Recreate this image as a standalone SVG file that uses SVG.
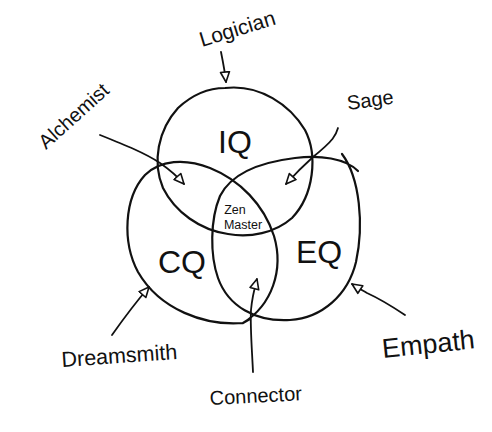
<svg xmlns="http://www.w3.org/2000/svg" width="492" height="432" viewBox="0 0 492 432">
<defs>
<style>
.ring{fill:none;stroke:#111;stroke-width:2.2;stroke-linecap:round;stroke-linejoin:round}
.conn{fill:none;stroke:#111;stroke-width:1.8;stroke-linecap:round}
.lbl{font-family:"Liberation Sans","DejaVu Sans",sans-serif;fill:#111}
.big{font-size:32px}
.small{font-size:20px}
.zen{font-size:12.5px}
</style>
<marker id="ah" viewBox="0 0 12 12" refX="11" refY="6" markerWidth="12" markerHeight="12" markerUnits="userSpaceOnUse" orient="auto">
<path d="M1,1.5 L11,6 L1,10.5 Z" fill="#fff" stroke="#111" stroke-width="1.6" stroke-linejoin="round"/>
</marker>
</defs>
<rect width="492" height="432" fill="#fff"/>
<g id="connectors">
<path class="conn" d="M221,52 C223,62 225,72 226,82" marker-end="url(#ah)"/>
<path class="conn" d="M100,135 C125,145 145,153 160,163 C170,170 177,176 184,184" marker-end="url(#ah)"/>
<path class="conn" d="M338,128 C336,135 334,140 313,157 C303,166 295,174 286,184" marker-end="url(#ah)"/>
<path class="conn" d="M112,335 C124,318 136,302 149,287" marker-end="url(#ah)"/>
<path class="conn" d="M253,372 C252,350 250,325 251,310 C252,298 254,290 257,279" marker-end="url(#ah)"/>
<path class="conn" d="M405,315 C390,305 378,298 367,293 C362,290 358,288 352,284" marker-end="url(#ah)"/>
</g>
<g id="iq">
<path class="ring" d="M225,88 C260,84 290,105 305,130 C318,155 314,195 292,218 C275,233 250,238 228,234 C200,230 175,212 163,188 C152,162 158,130 178,108 C192,95 208,88 225,88 Z"/>
<text class="lbl big" x="235" y="153" text-anchor="middle">IQ</text>
</g>
<g id="cq">
<path class="ring" d="M243,323 C205,326 160,310 138,272 C122,242 124,198 145,175 C160,160 185,158 210,168 C240,180 264,205 274,236 C284,270 272,305 243,323 L250,319"/>
<text class="lbl big" x="182" y="273" text-anchor="middle">CQ</text>
</g>
<g id="eq">
<path class="ring" d="M342,154 C360,178 364,225 356,262 C348,295 322,318 290,320 C255,322 228,306 218,278 C210,255 210,220 220,196 C232,172 262,162 295,158 C320,155 345,158 358,171"/>
<text class="lbl big" x="319" y="263" text-anchor="middle">EQ</text>
</g>
<g id="zen">
<text class="lbl zen" x="235" y="214" text-anchor="middle">Zen</text>
<text class="lbl zen" x="243" y="229" text-anchor="middle">Master</text>
</g>
<g id="logician">
<text class="lbl small" x="202" y="47" transform="rotate(-17 202 47)" style="font-size:21px">Logician</text>
</g>
<g id="alchemist">
<text class="lbl small" x="46" y="150" transform="rotate(-42 46 150)">Alchemist</text>
</g>
<g id="sage">
<text class="lbl small" x="348" y="110" transform="rotate(-8 348 110)">Sage</text>
</g>
<g id="dreamsmith">
<text class="lbl small" x="62" y="367" transform="rotate(-4 62 367)" style="font-size:21.5px">Dreamsmith</text>
</g>
<g id="connector">
<text class="lbl small" x="210" y="405" transform="rotate(-3 210 405)">Connector</text>
</g>
<g id="empath">
<text class="lbl" style="font-size:27px" x="383" y="358" transform="rotate(-6 383 358)">Empath</text>
</g>
</svg>
